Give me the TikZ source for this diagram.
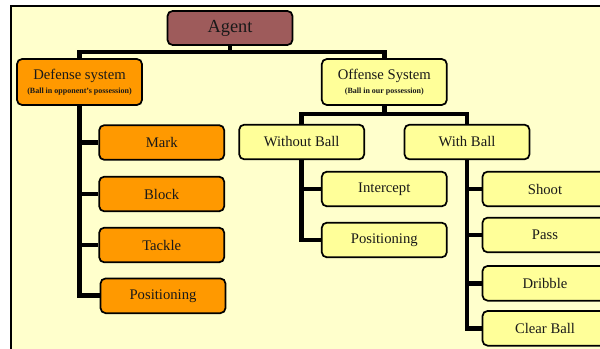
\documentclass[tikz,border=0pt]{standalone}
\usepackage{fontspec}
\setmainfont{Liberation Serif}
\usetikzlibrary{backgrounds}
\definecolor{bgyellow}{HTML}{FFFFCC}
\definecolor{agentred}{HTML}{9E5B5B}
\definecolor{defor}{HTML}{FF9900}
\definecolor{offyel}{HTML}{FFFF99}
\tikzset{
  box/.style={draw=black, line width=1.3pt, rounded corners=3.8pt, inner sep=0pt,
    minimum width=93.75pt, minimum height=26pt, font=\fontsize{11}{13}\selectfont, text=black!90},
  dbox/.style={box, fill=defor},
  obox/.style={box, fill=offyel},
  sysbox/.style={box, minimum height=34.5pt, align=center},
  conn/.style={line width=3.6pt, line join=miter},
}
\newcommand{\subtxt}[1]{{\fontsize{6}{7}\selectfont\bfseries #1}}
\begin{document}
\begin{tikzpicture}[x=0.75pt, y=-0.75pt]
\clip (0,0) rectangle (600,349);

\node[box, fill=agentred, minimum height=25.5pt, font=\fontsize{13.8}{16}\selectfont] (agent) at (230,28) {Agent};

\node[sysbox, fill=defor] (def) at (79.5,82) {Defense system\\[-2.5pt]\subtxt{(Ball in opponent’s possession)}};
\node[sysbox, fill=offyel] (off) at (384.3,82) {Offense System\\[-2.5pt]\subtxt{(Ball in our possession)}};

\node[dbox] (mark) at (161.7,142.5) {Mark};
\node[dbox] (block) at (161.7,194) {Block};
\node[dbox] (tackle) at (161.7,245) {Tackle};
\node[dbox] (dpos) at (163,295.8) {Positioning};

\node[obox] (wo) at (301.7,142) {Without Ball};
\node[obox] (with) at (467,142) {With Ball};
\node[obox] (inter) at (384.3,189) {Intercept};
\node[obox] (opos) at (384.3,240) {Positioning};
\node[obox] (shoot) at (545,189) {Shoot};
\node[obox] (pass) at (545,235) {Pass};
\node[obox] (drib) at (545,283.3) {Dribble};
\node[obox] (clear) at (545,328.3) {Clear Ball};

\coordinate (bar1) at (230,52);
\coordinate (bar2) at (384.3,114);

\begin{scope}[on background layer]
\fill[white] (0,0) rectangle (600,349);
\draw[fill=bgyellow, line width=1.2pt] (11,6) rectangle (640,400);
\draw[conn] (agent.south) -- (bar1) -| (def.north);
\draw[conn] (bar1) -| (off.north);
\draw[conn] (off.south) -- (bar2) -| (wo.north);
\draw[conn] (bar2) -| (with.north);
\draw[conn] (def.south) |- (mark.west);
\draw[conn] (def.south) |- (block.west);
\draw[conn] (def.south) |- (tackle.west);
\draw[conn] (def.south) |- (dpos.west);
\draw[conn] (wo.south) |- (inter.west);
\draw[conn] (wo.south) |- (opos.west);
\draw[conn] (with.south) |- (shoot.west);
\draw[conn] (with.south) |- (pass.west);
\draw[conn] (with.south) |- (drib.west);
\draw[conn] (with.south) |- (clear.west);
\end{scope}
\end{tikzpicture}
\end{document}
